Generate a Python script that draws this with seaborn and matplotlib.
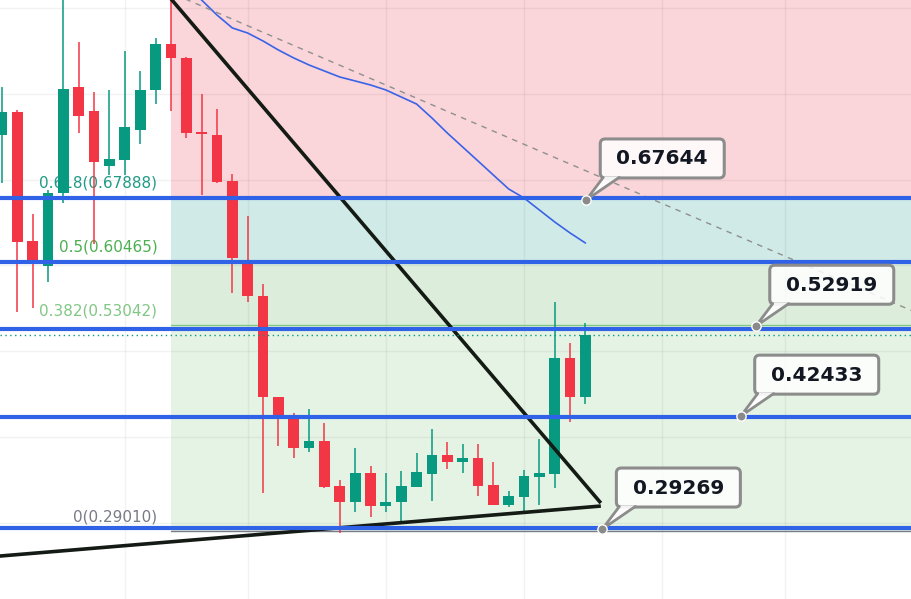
import numpy as np
import pandas as pd
import matplotlib
matplotlib.use("Agg")
import matplotlib.pyplot as plt
import matplotlib.transforms as mtransforms
from matplotlib.patches import FancyBboxPatch, Polygon
import seaborn as sns

# ---------------- data ----------------
opens = [0.7522, 0.7790, 0.6286, 0.5994, 0.6845, 0.8082, 0.7802, 0.7160, 0.7230, 0.7580,
         0.8047, 0.8583, 0.8420, 0.7545, 0.7522, 0.6985, 0.6064, 0.5644, 0.4467, 0.4222,
         0.3872, 0.3953, 0.3429, 0.3242, 0.3580, 0.3195, 0.3242, 0.3417, 0.3568, 0.3790,
         0.3708, 0.3755, 0.3440, 0.3207, 0.3300, 0.3533, 0.3568, 0.4921, 0.4467]
highs = [0.8082, 0.7813, 0.6601, 0.6880, 0.9150, 0.8606, 0.8023, 0.8047, 0.8501, 0.8268,
         0.8653, 0.9192, 0.8430, 0.8000, 0.7825, 0.7067, 0.6577, 0.5784, 0.4467, 0.4280,
         0.4327, 0.4163, 0.3498, 0.3872, 0.3662, 0.3580, 0.3603, 0.3813, 0.4093, 0.3942,
         0.3918, 0.3918, 0.3708, 0.3370, 0.3615, 0.3977, 0.5574, 0.5096, 0.5329]
lows = [0.6962, 0.5458, 0.5504, 0.5808, 0.6729, 0.7545, 0.6250, 0.7055, 0.7055, 0.7417,
        0.7883, 0.7802, 0.7487, 0.6822, 0.6962, 0.5679, 0.5574, 0.3347, 0.3895, 0.3755,
        0.3825, 0.3405, 0.2881, 0.3125, 0.3067, 0.3125, 0.3020, 0.3417, 0.3254, 0.3627,
        0.3580, 0.3312, 0.3207, 0.3184, 0.3125, 0.3207, 0.3405, 0.4175, 0.4385]
closes = [0.7790, 0.6274, 0.6029, 0.6845, 0.8058, 0.7743, 0.7207, 0.7242, 0.7615, 0.8047,
          0.8583, 0.8420, 0.7545, 0.7534, 0.6974, 0.6087, 0.5644, 0.4467, 0.4210, 0.3872,
          0.3953, 0.3417, 0.3242, 0.3580, 0.3195, 0.3242, 0.3429, 0.3592, 0.3790, 0.3708,
          0.3755, 0.3429, 0.3207, 0.3312, 0.3545, 0.3580, 0.4921, 0.4467, 0.5190]

ma_idx = list(range(12, 39))
ma_vals = [0.9248, 0.9096, 0.8921, 0.8770, 0.8711, 0.8618, 0.8513, 0.8420, 0.8338, 0.8268,
           0.8198, 0.8152, 0.8105, 0.8047, 0.7965, 0.7883, 0.7720, 0.7545, 0.7382, 0.7219,
           0.7055, 0.6892, 0.6787, 0.6647, 0.6507, 0.6379, 0.6262]

fib_start = 11
fib_ratios = ["1", "0.618", "0.5", "0.382", "0"]
fib_levels = [0.9192, 0.67888, 0.60465, 0.53042, 0.29010]
fib_colors = ["#f7a6ae", "#1f9a86", "#4caf50", "#81c784", "#787b86"]
zone_colors = ["#fad5d9", "#d0ebe7", "#dceedb", "#e5f3e4"]

hlines = [0.6790, 0.6046, 0.5259, 0.4234, 0.2939]
label_vals = [0.67644, 0.52919, 0.42433, 0.29269]
label_x = [38.05, 49.09, 48.11, 39.10]

trend_down_x, trend_down_y = [11.0, 39.0], [0.911, 0.323]
trend_up_x, trend_up_y = [-1.0, 39.0], [0.2599, 0.3195]
dash_x, dash_y = [11.0, 59.3], [0.918, 0.547]

grid_x = [8, 16, 25, 34, 43, 51]
grid_y = [0.3, 0.4, 0.5, 0.6, 0.7, 0.8, 0.9]

# ---------------- figure ----------------
sns.set_theme(style="white")
plt.rcParams["font.family"] = ["DejaVu Sans"]

fig = plt.figure(figsize=(9.11, 5.99), dpi=100)
ax = fig.add_axes([0, 0, 1, 1])
XMIN, XMAX = -0.13, 59.2
ax.set_xlim(XMIN, XMAX)
ax.set_ylim(0.2111, 0.9096)
ax.axis("off")

# fib zones
for k in range(4):
    ax.fill_between([fib_start, XMAX + 1], fib_levels[k + 1], fib_levels[k],
                    color=zone_colors[k], lw=0, zorder=0)
for lv, col in zip(fib_levels, fib_colors):
    ax.plot([fib_start, XMAX + 1], [lv, lv], color=col, lw=1, zorder=1.5)

# grid
for gx in grid_x:
    ax.axvline(gx, color="black", alpha=0.05, lw=1, zorder=1)
for gy in grid_y:
    ax.axhline(gy, color="black", alpha=0.05, lw=1, zorder=1)

# fib labels
for r, lv, col in zip(fib_ratios[1:], fib_levels[1:], fib_colors[1:]):
    ax.annotate(f"{r}({lv:.5f})", xy=(10.12, lv), xytext=(0, 7),
                textcoords="offset pixels", ha="right", va="bottom",
                color=col, fontsize=11, zorder=2)

# candles
df = pd.DataFrame({"o": opens, "h": highs, "l": lows, "c": closes})
df["i"] = np.arange(len(df))
GREEN, RED = "#089981", "#f23645"
df["col"] = np.where(df["c"] >= df["o"], GREEN, RED)
ax.vlines(df["i"], df["l"], df["h"], colors=df["col"], lw=1.1, zorder=3)
body = np.maximum((df["c"] - df["o"]).abs(), 0.0018)
ax.bar(df["i"], body, bottom=np.minimum(df["o"], df["c"]), width=0.7,
       color=df["col"], lw=0, zorder=3.1)

# moving average
sns.lineplot(x=ma_idx, y=ma_vals, ax=ax, color="#3a63e8", lw=1.2, zorder=4,
             legend=False)

# dashed fib trend line
ax.plot(dash_x, dash_y, color="#8f8f8f", lw=1, ls=(0, (4, 4)), zorder=4)

# black trendlines
ax.plot(trend_down_x, trend_down_y, color="#141a14", lw=2.6, zorder=5,
        solid_capstyle="butt")
ax.plot(trend_up_x, trend_up_y, color="#141a14", lw=2.6, zorder=5,
        solid_capstyle="butt")

# blue horizontal lines
for hv in hlines:
    ax.axhline(hv, color="#2f62e6", lw=3, zorder=6)

# current price dotted line
ax.axhline(closes[-1], color=GREEN, lw=1, ls=(0, (1, 2.5)), zorder=6)

# callout labels (box geometry in pixel offsets from the anchor dot)
box_fc = (1, 1, 1, 0.85)
EDGE = "#8c8c8c"
for lx, lv in zip(label_x, label_vals):
    tr = mtransforms.Affine2D() + mtransforms.ScaledTranslation(lx, lv, ax.transData)
    box = FancyBboxPatch((14, 22), 124, 39, boxstyle="round,pad=0,rounding_size=5",
                         fc=box_fc, ec=EDGE, lw=2.2, transform=tr, zorder=8)
    ax.add_patch(box)
    ptr = Polygon([(0, 0), (17, 23.4), (33, 23.4)], closed=True, fc=(1, 1, 1, 0.9),
                  ec="none", transform=tr, zorder=8.1)
    ax.add_patch(ptr)
    ax.plot([17, 0, 33], [22.6, 0, 22.6], color=EDGE, lw=2.0, transform=tr,
            zorder=8.2, solid_joinstyle="miter")
    ax.text(76, 41, f"{lv:.5f}", transform=tr, ha="center", va="center",
            fontsize=14.5, fontweight="bold", color="#131722", zorder=8.3)
ax.scatter(label_x, label_vals, s=45, color="#8a8a8a", edgecolor="white",
           lw=1, zorder=9)

fig.savefig("out.png", dpi=100, facecolor="white")
